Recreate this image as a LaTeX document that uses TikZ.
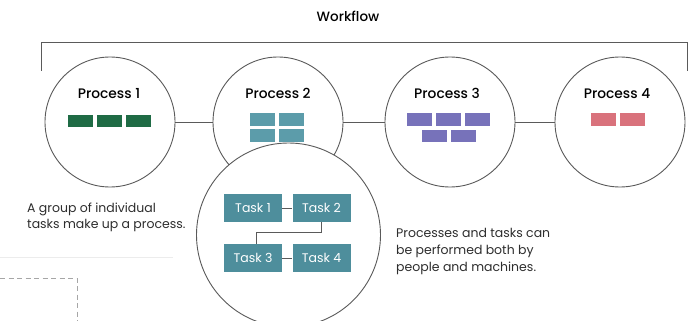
\documentclass[tikz,border=0pt]{standalone}
\usepackage{fontspec}
\setmainfont{Poppins}
\newfontfamily\medfont{Poppins Medium}
\definecolor{ringgray}{HTML}{5A5A5A}
\definecolor{txtgray}{HTML}{2E2E2E}
\definecolor{pgreen}{HTML}{1F6B45}
\definecolor{pteal}{HTML}{5C9CAA}
\definecolor{ppurple}{HTML}{7772BA}
\definecolor{ppink}{HTML}{D9727C}
\definecolor{taskteal}{HTML}{4E8E9C}
\begin{document}
\begin{tikzpicture}[x=1pt,y=-1pt,
  ring/.style={circle,draw=ringgray,line width=0.9pt,fill=white,minimum size=130pt,inner sep=0pt},
  bigring/.style={circle,draw=ringgray,line width=0.9pt,fill=white,minimum size=184pt,inner sep=0pt},
  link/.style={draw=ringgray,line width=0.8pt},
  ptitle/.style={font=\medfont\fontsize{13.8}{15}\selectfont,text=black,anchor=base,inner sep=0pt},
  brick/.style={draw=none,minimum width=25pt,minimum height=12.5pt,inner sep=0pt},
  taskbox/.style={fill=taskteal,minimum width=58pt,minimum height=28pt,inner sep=0pt,text=white,font=\fontsize{12.5}{14}\selectfont},
  note/.style={align=left,text=txtgray,inner sep=0pt,anchor=base west}
]
\useasboundingbox (0,0) rectangle (697,321);
\fill[white] (0,0) rectangle (697,321);

% title and bracket
\node[font=\medfont\fontsize{13.5}{15}\selectfont,anchor=base,inner sep=0pt] (wf) at (348,22) {Workflow};
\coordinate (bl) at (41,71);
\coordinate (br) at (687,71);
\draw[link] (bl) -- (41,42) -- (687,42) -- (br);

% process circles
\node[ring] (p1) at (110,122) {};
\node[ring] (p2) at (278,122) {};
\node[ring] (p3) at (450,122) {};
\node[ring] (p4) at (620,122) {};
\draw[link] (p1) -- (p2);
\draw[link] (p2) -- (p3);
\draw[link] (p3) -- (p4);

\node[ptitle] (t1) at (109,98.5) {Process 1};
\node[ptitle] (t2) at (278,98.5) {Process 2};
\node[ptitle] (t3) at (447,98.5) {Process 3};
\node[ptitle] (t4) at (617,98.5) {Process 4};

% task bricks
\foreach \x in {80.5,109,138} \node[brick,fill=pgreen] at (\x,121) {};
\foreach \x in {262.5,291.5} {
  \node[brick,fill=pteal] at (\x,119.5) {};
  \node[brick,fill=pteal] at (\x,135.5) {};
}
\foreach \x in {419.5,448.5,477} \node[brick,fill=ppurple] at (\x,119.5) {};
\foreach \x in {434.5,463} \node[brick,fill=ppurple] at (\x,136) {};
\foreach \x in {603.5,632} \node[brick,fill=ppink] at (\x,119.5) {};

% zoomed-in process
\node[bigring] (zoom) at (288.5,235) {};
\node[taskbox] (k1) at (253,208) {Task 1};
\node[taskbox] (k2) at (321.5,208) {Task 2};
\node[taskbox] (k3) at (253,258) {Task 3};
\node[taskbox] (k4) at (321.5,258) {Task 4};
\draw[link] (k1) -- (k2);
\draw[link] (k3) -- (k4);
\draw[link] (k2.south) -- ++(0,10) -| (k3.north -| 256,0) ;

% notes (anchored on the baseline of their last line)
\node[note,font=\fontsize{12.5}{16}\selectfont] (n1) at (27,228.5) {A group of individual\\tasks make up a process.};
\node[note,font=\fontsize{12.5}{17}\selectfont] (n2) at (396,271.5) {Processes and tasks can\\be performed both by\\people and machines.};

% faint rule and dashed frame
\draw[gray!15,line width=0.6pt] (0,257) -- (173,257);
\draw[gray!70,dashed,line width=0.9pt,dash pattern=on 5pt off 3.5pt] (0,278) -- (77,278) -- (77,321);
\end{tikzpicture}
\end{document}
